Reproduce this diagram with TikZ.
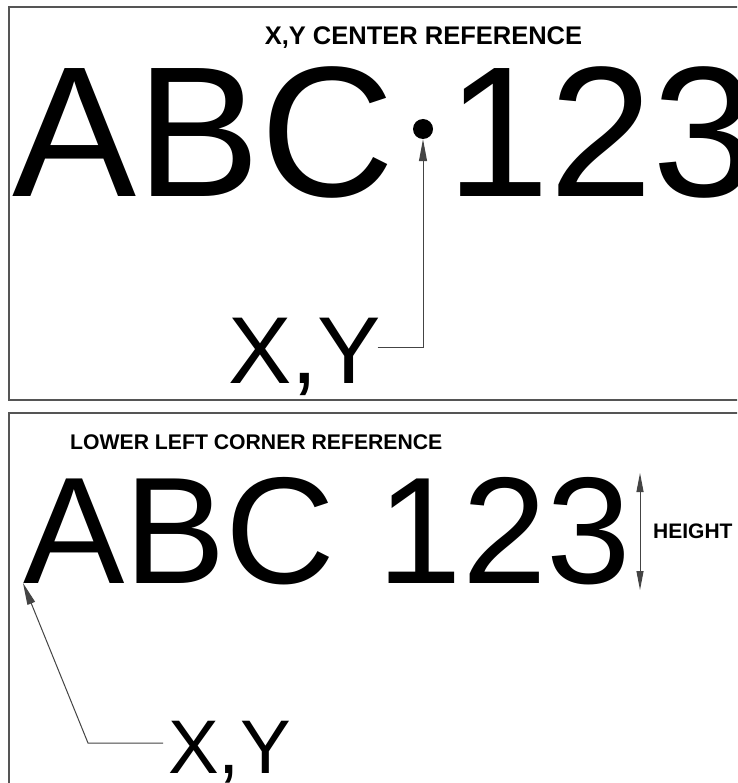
\documentclass[tikz,border=0pt]{standalone}
\usepackage{fontspec}
\setmainfont{Liberation Sans}
\usetikzlibrary{arrows.meta}
\definecolor{framegray}{HTML}{555555}
\definecolor{leadgray}{HTML}{444444}
\tikzset{
  panel/.style={draw=framegray, line width=1.4pt},
  leader/.style={draw=leadgray, line width=1pt},
  bigtext/.style={inner sep=0pt, anchor=base west, text=black},
  title/.style={inner sep=0pt, font=\bfseries\fontsize{22pt}{22pt}\selectfont},
  tip/.style={-{Triangle[length=22pt,width=8pt]}},
  dimarrow/.style={{Triangle[length=19pt,width=7pt]}-{Triangle[length=19pt,width=7pt]}}
}
\begin{document}
\begin{tikzpicture}[x=1pt,y=-1pt]
\useasboundingbox (0,0) rectangle (737,783);
\clip (0,0) rectangle (737,783);
\fill[white] (0,0) rectangle (737,783);
% panels
\draw[panel] (745,7) -- (9,7) -- (9,400) -- (745,400);
\draw[panel] (745,413) -- (9,413) -- (9,790);
% top panel
\node[title, anchor=base, font=\bfseries\fontsize{25.5pt}{25.5pt}\selectfont] (t1) at (423.5,45) {X,Y CENTER REFERENCE};
\node[bigtext, font=\fontsize{186pt}{186pt}\selectfont] (abc1) at (12,197) {ABC 123};
\node[circle, fill=black, inner sep=0pt, minimum size=20pt] (dot) at (423,129) {};
\node[bigtext, font=\fontsize{95pt}{95pt}\selectfont] (xy1) at (228,383) {X,Y};
\draw[leader, tip] ([xshift=-4pt, yshift=36pt]xy1.base east) -| (dot.south);
% bottom panel
\node[title, anchor=base west, font=\bfseries\fontsize{21.2pt}{21.2pt}\selectfont] (t2) at (70,449) {LOWER LEFT CORNER REFERENCE};
\node[bigtext, font=\fontsize{152pt}{152pt}\selectfont] (abc2) at (23,583) {ABC 123};
\coordinate (htop) at (640,473);
\coordinate (hbot) at (640,590);
\draw[leader, dimarrow] (htop) -- (hbot);
\node[inner sep=0pt, anchor=base west, font=\bfseries\fontsize{21pt}{21pt}\selectfont] (ht) at (653,538) {HEIGHT};
\node[bigtext, font=\fontsize{76pt}{76pt}\selectfont] (xy2) at (168,773) {X,Y};
\draw[leader, tip] ([xshift=-5pt, yshift=30pt]xy2.base west) -- ++(-75,0) -- (abc2.base west);
\end{tikzpicture}
\end{document}
